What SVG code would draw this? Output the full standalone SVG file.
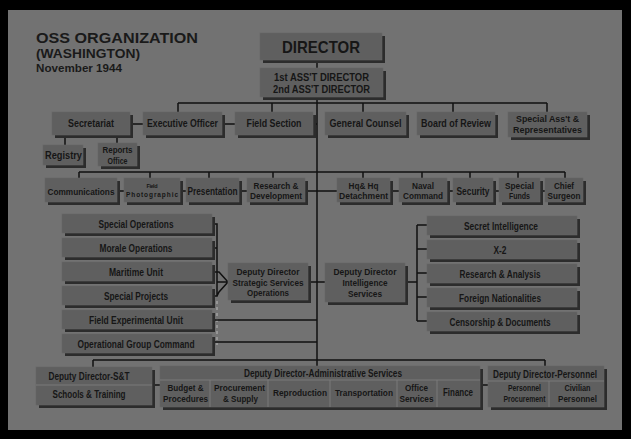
<svg xmlns="http://www.w3.org/2000/svg" width="631" height="439" viewBox="0 0 631 439">
<style>
.b{fill:#5f5f5f;stroke:#666;stroke-width:0.6}
.s{fill:#2c2c2c}
.t{font-family:"Liberation Sans",Arial,sans-serif;font-weight:bold;font-size:10.5px;fill:#161616;text-anchor:middle}
.t2{font-size:9.5px}
.h{font-family:"Liberation Sans",Arial,sans-serif;font-weight:bold;fill:#1a1a1a}
.c{stroke:#111;stroke-width:1.5;fill:none}
.d{stroke:#7a7a7a;stroke-width:1;fill:none}
.dot{stroke:#a3a3a3;stroke-width:1.5;stroke-dasharray:3,3;fill:none}
</style>
<rect width="631" height="439" fill="#000"/>
<rect x="8" y="10" width="614" height="420" fill="#727272"/>

<g id="title">
<text class="h" x="36" y="43" font-size="15.5" textLength="162" lengthAdjust="spacingAndGlyphs">OSS ORGANIZATION</text>
<text class="h" x="36" y="58" font-size="12" textLength="104" lengthAdjust="spacingAndGlyphs">(WASHINGTON)</text>
<text class="h" x="36" y="72" font-size="10" textLength="86" lengthAdjust="spacingAndGlyphs">November 1944</text>
</g>

<g id="connectors">
<path class="c" d="M317,60 V68 M317,97 V366"/>
<path class="c" d="M178,103 H547 M178,103 V112 M272,103 V112 M363,103 V112 M453,103 V112 M547,103 V112"/>
<path class="c" d="M130,124 H143 M222,124 H235 M313,124 H317 M65,135 V145 M117,135 V143"/>
<path class="c" d="M79,172 H565 M79,172 V178 M150,172 V178 M209,172 V178 M273,172 V178 M363,172 V178 M422,172 V178 M470,172 V178 M518,172 V178 M565,172 V178"/>
<path class="c" d="M117,191 H124 M180,191 H186 M239,191 H247 M305,191 H337 M390,191 H399 M447,191 H453 M493,191 H499 M540,191 H545"/>
<path class="c" d="M212,224 H217 V296 H212 M212,248 H217 M212,272 H219 L228,282 L219,292 L217,296 M217,282 H228"/>
<path class="dot" d="M217,301 V345"/>
<path class="c" d="M308,282 H325 M212,320 H317 M212,342 H317"/>
<path class="c" d="M405,282 H417 M417,225 V321 M417,225 H427 M417,249 H427 M417,273 H427 M417,297 H427 M417,321 H427"/>
<path class="c" d="M93,360 H545 M93,360 V367 M545,360 V366 M152,385 H160 M480,385 H488"/>
</g>

<g id="director">
<rect class="s" x="263" y="36" width="122" height="27"/><rect class="b" x="260" y="33" width="122" height="27"/>
<text class="t" x="321" y="53" style="font-size:16.5px" textLength="78" lengthAdjust="spacingAndGlyphs">DIRECTOR</text>
</g>
<g id="assistant">
<rect class="s" x="263" y="71" width="123" height="29"/><rect class="b" x="260" y="68" width="123" height="29"/>
<text class="t" x="321.5" y="80.5" textLength="95" lengthAdjust="spacingAndGlyphs">1st ASS'T DIRECTOR</text>
<text class="t" x="321.5" y="92.5" textLength="97" lengthAdjust="spacingAndGlyphs">2nd ASS'T DIRECTOR</text>
</g>

<g id="secretariat"><rect class="s" x="55" y="115" width="78" height="23"/><rect class="b" x="52" y="112" width="78" height="23"/>
<text class="t" x="91" y="127" textLength="46" lengthAdjust="spacingAndGlyphs">Secretariat</text></g>
<g id="executive"><rect class="s" x="146" y="115" width="79" height="23"/><rect class="b" x="143" y="112" width="79" height="23"/>
<text class="t" x="182.5" y="127" textLength="71" lengthAdjust="spacingAndGlyphs">Executive Officer</text></g>
<g id="fieldsection"><rect class="s" x="238" y="115" width="78" height="23"/><rect class="b" x="235" y="112" width="78" height="23"/>
<text class="t" x="274" y="127" textLength="55" lengthAdjust="spacingAndGlyphs">Field Section</text></g>
<g id="counsel"><rect class="s" x="328" y="115" width="81" height="23"/><rect class="b" x="325" y="112" width="81" height="23"/>
<text class="t" x="365.5" y="127" textLength="72" lengthAdjust="spacingAndGlyphs">General Counsel</text></g>
<g id="review"><rect class="s" x="420" y="115" width="78" height="23"/><rect class="b" x="417" y="112" width="78" height="23"/>
<text class="t" x="456" y="127" textLength="70" lengthAdjust="spacingAndGlyphs">Board of Review</text></g>
<g id="specialasst"><rect class="s" x="511" y="115" width="79" height="25"/><rect class="b" x="508" y="112" width="79" height="25"/>
<text class="t t2" x="547.5" y="122" textLength="63" lengthAdjust="spacingAndGlyphs">Special Ass't &amp;</text>
<text class="t t2" x="547.5" y="133" textLength="69" lengthAdjust="spacingAndGlyphs">Representatives</text></g>

<g id="registry"><rect class="s" x="46" y="148" width="40" height="20"/><rect class="b" x="43" y="145" width="40" height="20"/>
<text class="t" x="63.5" y="158.5" textLength="37" lengthAdjust="spacingAndGlyphs">Registry</text></g>
<g id="reports"><rect class="s" x="101" y="146" width="39" height="23"/><rect class="b" x="98" y="143" width="39" height="23"/>
<text class="t t2" x="117.5" y="153" textLength="30" lengthAdjust="spacingAndGlyphs">Reports</text>
<text class="t t2" x="117.5" y="163.5" textLength="20" lengthAdjust="spacingAndGlyphs">Office</text></g>

<g id="communications"><rect class="s" x="48" y="181" width="72" height="24"/><rect class="b" x="45" y="178" width="72" height="24"/>
<text class="t t2" x="81" y="194.5" textLength="67" lengthAdjust="spacingAndGlyphs">Communications</text></g>
<g id="photographic"><rect class="s" x="127" y="181" width="56" height="24"/><rect class="b" x="124" y="178" width="56" height="24"/>
<text class="t" x="152" y="187.5" style="font-size:5.5px" textLength="11" lengthAdjust="spacing">Field</text>
<text class="t" x="152" y="197" style="font-size:6.5px" textLength="52" lengthAdjust="spacing">Photographic</text></g>
<g id="presentation"><rect class="s" x="189" y="181" width="53" height="24"/><rect class="b" x="186" y="178" width="53" height="24"/>
<text class="t" x="212.5" y="194.5" textLength="50" lengthAdjust="spacingAndGlyphs">Presentation</text></g>
<g id="research"><rect class="s" x="250" y="181" width="58" height="24"/><rect class="b" x="247" y="178" width="58" height="24"/>
<text class="t t2" x="276" y="188.5" textLength="45" lengthAdjust="spacingAndGlyphs">Research &amp;</text>
<text class="t t2" x="276" y="199" textLength="52" lengthAdjust="spacingAndGlyphs">Development</text></g>
<g id="hq"><rect class="s" x="340" y="181" width="53" height="24"/><rect class="b" x="337" y="178" width="53" height="24"/>
<text class="t t2" x="363.5" y="188.5" textLength="30" lengthAdjust="spacingAndGlyphs">Hq&amp; Hq</text>
<text class="t t2" x="363.5" y="199" textLength="49" lengthAdjust="spacingAndGlyphs">Detachment</text></g>
<g id="naval"><rect class="s" x="402" y="181" width="48" height="24"/><rect class="b" x="399" y="178" width="48" height="24"/>
<text class="t t2" x="423" y="188.5" textLength="22" lengthAdjust="spacingAndGlyphs">Naval</text>
<text class="t t2" x="423" y="199" textLength="40" lengthAdjust="spacingAndGlyphs">Command</text></g>
<g id="security"><rect class="s" x="456" y="181" width="40" height="24"/><rect class="b" x="453" y="178" width="40" height="24"/>
<text class="t" x="473" y="194.5" textLength="33" lengthAdjust="spacingAndGlyphs">Security</text></g>
<g id="funds"><rect class="s" x="502" y="181" width="41" height="24"/><rect class="b" x="499" y="178" width="41" height="24"/>
<text class="t t2" x="519.5" y="188.5" textLength="29" lengthAdjust="spacingAndGlyphs">Special</text>
<text class="t t2" x="519.5" y="199" textLength="21" lengthAdjust="spacingAndGlyphs">Funds</text></g>
<g id="surgeon"><rect class="s" x="548" y="181" width="38" height="24"/><rect class="b" x="545" y="178" width="38" height="24"/>
<text class="t t2" x="564" y="188.5" textLength="20" lengthAdjust="spacingAndGlyphs">Chief</text>
<text class="t t2" x="564" y="199" textLength="33" lengthAdjust="spacingAndGlyphs">Surgeon</text></g>

<g id="specialops"><rect class="s" x="65" y="217" width="150" height="19"/><rect class="b" x="62" y="214" width="150" height="19"/>
<text class="t" x="136" y="227.5" textLength="75" lengthAdjust="spacingAndGlyphs">Special Operations</text></g>
<g id="moraleops"><rect class="s" x="65" y="241" width="150" height="19"/><rect class="b" x="62" y="238" width="150" height="19"/>
<text class="t" x="136" y="251.5" textLength="73" lengthAdjust="spacingAndGlyphs">Morale Operations</text></g>
<g id="maritime"><rect class="s" x="65" y="265" width="150" height="19"/><rect class="b" x="62" y="262" width="150" height="19"/>
<text class="t" x="136" y="275.5" textLength="54" lengthAdjust="spacingAndGlyphs">Maritime Unit</text></g>
<g id="specialprojects"><rect class="s" x="65" y="289" width="150" height="19"/><rect class="b" x="62" y="286" width="150" height="19"/>
<text class="t" x="136" y="299.5" textLength="64" lengthAdjust="spacingAndGlyphs">Special Projects</text></g>
<g id="fieldexp"><rect class="s" x="65" y="313" width="150" height="19"/><rect class="b" x="62" y="310" width="150" height="19"/>
<text class="t" x="136" y="323.5" textLength="94" lengthAdjust="spacingAndGlyphs">Field Experimental Unit</text></g>
<g id="opgroup"><rect class="s" x="65" y="337" width="150" height="19"/><rect class="b" x="62" y="334" width="150" height="19"/>
<text class="t" x="136" y="347.5" textLength="117" lengthAdjust="spacingAndGlyphs">Operational Group Command</text></g>

<g id="ddsso"><rect class="s" x="231" y="266" width="80" height="37"/><rect class="b" x="228" y="263" width="80" height="37"/>
<text class="t t2" x="268" y="275" textLength="63" lengthAdjust="spacingAndGlyphs">Deputy Director</text>
<text class="t t2" x="268" y="285.5" textLength="71" lengthAdjust="spacingAndGlyphs">Strategic Services</text>
<text class="t t2" x="268" y="296" textLength="42" lengthAdjust="spacingAndGlyphs">Operations</text></g>
<g id="ddis"><rect class="s" x="328" y="266" width="80" height="39"/><rect class="b" x="325" y="263" width="80" height="39"/>
<text class="t t2" x="365" y="275" textLength="63" lengthAdjust="spacingAndGlyphs">Deputy Director</text>
<text class="t t2" x="365" y="285.5" textLength="45" lengthAdjust="spacingAndGlyphs">Intelligence</text>
<text class="t t2" x="365" y="296.5" textLength="34" lengthAdjust="spacingAndGlyphs">Services</text></g>

<g id="secretintel"><rect class="s" x="430" y="219" width="150" height="19"/><rect class="b" x="427" y="216" width="150" height="19"/>
<text class="t" x="501" y="229.5" textLength="74" lengthAdjust="spacingAndGlyphs">Secret Intelligence</text></g>
<g id="x2"><rect class="s" x="430" y="243" width="150" height="19"/><rect class="b" x="427" y="240" width="150" height="19"/>
<text class="t" x="500" y="253.5" textLength="13" lengthAdjust="spacingAndGlyphs">X-2</text></g>
<g id="ra"><rect class="s" x="430" y="267" width="150" height="19"/><rect class="b" x="427" y="264" width="150" height="19"/>
<text class="t" x="500" y="277.5" textLength="81" lengthAdjust="spacingAndGlyphs">Research &amp; Analysis</text></g>
<g id="foreign"><rect class="s" x="430" y="291" width="150" height="19"/><rect class="b" x="427" y="288" width="150" height="19"/>
<text class="t" x="500" y="301.5" textLength="82" lengthAdjust="spacingAndGlyphs">Foreign Nationalities</text></g>
<g id="censorship"><rect class="s" x="430" y="315" width="150" height="19"/><rect class="b" x="427" y="312" width="150" height="19"/>
<text class="t" x="500" y="325.5" textLength="101" lengthAdjust="spacingAndGlyphs">Censorship &amp; Documents</text></g>

<g id="ddst"><rect class="s" x="39" y="370" width="116" height="38"/><rect class="b" x="36" y="367" width="116" height="38"/>
<path class="d" d="M36,385 H152"/>
<text class="t" x="89" y="380" textLength="81" lengthAdjust="spacingAndGlyphs">Deputy Director-S&amp;T</text>
<text class="t" x="89" y="398" textLength="73" lengthAdjust="spacingAndGlyphs">Schools &amp; Training</text></g>

<g id="ddadmin"><rect class="s" x="163" y="369" width="320" height="41"/><rect class="b" x="160" y="366" width="320" height="41"/>
<path class="d" d="M160,380 H480 M210,380 V407 M268,380 V407 M330,380 V407 M397,380 V407 M437,380 V407"/>
<text class="t" x="323" y="377" textLength="158" lengthAdjust="spacingAndGlyphs">Deputy Director-Administrative Services</text>
<text class="t t2" x="185.5" y="390.5" textLength="36" lengthAdjust="spacingAndGlyphs">Budget &amp;</text>
<text class="t t2" x="185.5" y="401.5" textLength="45" lengthAdjust="spacingAndGlyphs">Procedures</text>
<text class="t t2" x="239.5" y="390.5" textLength="51" lengthAdjust="spacingAndGlyphs">Procurement</text>
<text class="t t2" x="240.5" y="401.5" textLength="35" lengthAdjust="spacingAndGlyphs">&amp; Supply</text>
<text class="t t2" x="300" y="396" textLength="54" lengthAdjust="spacingAndGlyphs">Reproduction</text>
<text class="t t2" x="364" y="396" textLength="58" lengthAdjust="spacingAndGlyphs">Transportation</text>
<text class="t t2" x="416.5" y="390.5" textLength="23" lengthAdjust="spacingAndGlyphs">Office</text>
<text class="t t2" x="416.5" y="401.5" textLength="34" lengthAdjust="spacingAndGlyphs">Services</text>
<text class="t" x="458" y="396" textLength="30" lengthAdjust="spacingAndGlyphs">Finance</text></g>

<g id="ddpersonnel"><rect class="s" x="491" y="369" width="116" height="41"/><rect class="b" x="488" y="366" width="116" height="41"/>
<path class="d" d="M488,381 H604 M549,381 V407"/>
<text class="t" x="545" y="377.5" textLength="104" lengthAdjust="spacingAndGlyphs">Deputy Director-Personnel</text>
<text class="t t2" x="524.5" y="391" textLength="33" lengthAdjust="spacingAndGlyphs">Personnel</text>
<text class="t t2" x="524.5" y="402" textLength="42" lengthAdjust="spacingAndGlyphs">Procurement</text>
<text class="t t2" x="577.5" y="391" textLength="26" lengthAdjust="spacingAndGlyphs">Civilian</text>
<text class="t t2" x="577.5" y="402" textLength="39" lengthAdjust="spacingAndGlyphs">Personnel</text></g>
</svg>
